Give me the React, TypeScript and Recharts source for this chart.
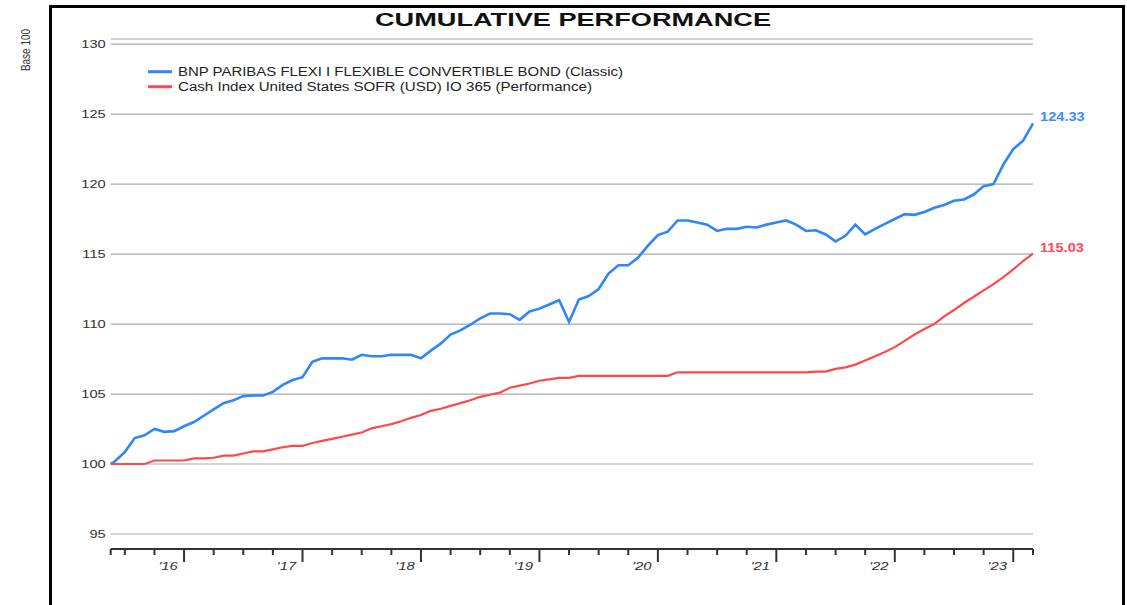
import React from "react";
import { LineChart, Line, XAxis, YAxis, CartesianGrid, Legend } from "recharts";

// months counted from Jan 2016; first point is the base date (mid-May 2016), then month ends
const firstMonth = 4.57;

const fundValues = [
  100.0, 100.2, 100.85, 101.85, 102.05, 102.5, 102.3, 102.35, 102.7, 103.0,
  103.45, 103.9, 104.35, 104.55, 104.85, 104.9, 104.9, 105.15, 105.65, 106.0,
  106.2, 107.3, 107.55, 107.55, 107.55, 107.45, 107.8, 107.7, 107.7, 107.8,
  107.8, 107.8, 107.55, 108.1, 108.6, 109.25, 109.55, 109.95, 110.4, 110.75,
  110.75, 110.7, 110.3, 110.9, 111.1, 111.4, 111.7, 110.15, 111.75, 112.0,
  112.5, 113.6, 114.2, 114.2, 114.75, 115.6, 116.35, 116.6, 117.4, 117.4,
  117.25, 117.1, 116.65, 116.8, 116.8, 116.95, 116.9, 117.1, 117.25, 117.4,
  117.1, 116.65, 116.7, 116.4, 115.9, 116.3, 117.1, 116.4, 116.8, 117.15,
  117.5, 117.85, 117.8, 118.0, 118.3, 118.5, 118.8, 118.9, 119.25, 119.85,
  120.0, 121.4, 122.5, 123.1, 124.33,
];

const cashValues = [
  100.0, 100.0, 100.0, 100.0, 100.0, 100.25, 100.25, 100.25, 100.25, 100.4,
  100.4, 100.45, 100.6, 100.6, 100.75, 100.9, 100.9, 101.05, 101.2, 101.3,
  101.3, 101.5, 101.65, 101.8, 101.95, 102.1, 102.25, 102.55, 102.7, 102.85,
  103.05, 103.3, 103.5, 103.8, 103.95, 104.15, 104.35, 104.55, 104.8, 104.95,
  105.1, 105.45, 105.6, 105.75, 105.95, 106.05, 106.15, 106.15, 106.3, 106.3,
  106.3, 106.3, 106.3, 106.3, 106.3, 106.3, 106.3, 106.3, 106.55, 106.55,
  106.55, 106.55, 106.55, 106.55, 106.55, 106.55, 106.55, 106.55, 106.55, 106.55,
  106.55, 106.55, 106.6, 106.6, 106.8, 106.9, 107.1, 107.4, 107.7, 108.0,
  108.35, 108.8, 109.25, 109.65, 110.0, 110.55, 111.0, 111.5, 111.95, 112.4,
  112.85, 113.35, 113.9, 114.5, 115.03,
];

const fundName = "BNP PARIBAS FLEXI I FLEXIBLE CONVERTIBLE BOND (Classic)";
const cashName = "Cash Index United States SOFR (USD) IO 365 (Performance)";

const yTicks = [95, 100, 105, 110, 115, 120, 125, 130];
const yearTicks = [12, 24, 36, 48, 60, 72, 84, 96];
const yearLabels = ["'16", "'17", "'18", "'19", "'20", "'21", "'22", "'23"];
const xTicks = [
  4.57, 6, 9, 12, 15, 18, 21, 24, 27, 30, 33, 36, 39, 42, 45, 48, 51, 54, 57, 60,
  63, 66, 69, 72, 75, 78, 81, 84, 87, 90, 93, 96, 98,
];

const data = fundValues.map((v, i) => ({
  t: i === 0 ? firstMonth : 4 + i,
  fund: v,
  cash: cashValues[i],
}));

const FONT = "'Liberation Sans', Arial, sans-serif";
const BLUE = "#2f86f6";
const RED = "#ff4848";
const INK = "#333";

const StretchText = ({ x, y, sx = 1.3, anchor = "start", size = 11, weight = "normal", italic = false, fill = INK, children }: any) => (
  <g transform={`translate(${x},${y}) scale(${sx},1)`}>
    <text x={0} y={0} textAnchor={anchor} fontSize={size} fontWeight={weight}
      fontStyle={italic ? "italic" : "normal"} fill={fill} fontFamily={FONT}>
      {children}
    </text>
  </g>
);

const XTick = (props: any) => {
  const { x, y, payload } = props;
  const yi = yearTicks.indexOf(payload.value);
  const major = yi >= 0;
  return (
    <g>
      <line x1={x} x2={x} y1={y} y2={y + (major ? 13 : 6)} stroke={INK} strokeWidth={2} />
      {major && (
        <StretchText x={x - 16} y={y + 21} anchor="middle" italic sx={1.35}>
          {yearLabels[yi]}
        </StretchText>
      )}
    </g>
  );
};

const YTick = (props: any) => {
  const { x, y, payload } = props;
  return (
    <StretchText x={x} y={y + 4} anchor="end" sx={1.33}>
      {payload.value}
    </StretchText>
  );
};

const endLabel = (color: string) => (props: any) => {
  const { x, y, index, value } = props;
  if (index !== data.length - 1) return <g />;
  return (
    <StretchText x={x + 7} y={y - 2} size={12} weight="bold" fill={color} sx={1.22}>
      {Number(value).toFixed(2)}
    </StretchText>
  );
};

const legendWidths = [445, 414];

const renderLegend = (props: any) => {
  const { payload } = props;
  return (
    <svg width={520} height={34}>
      {payload.map((entry: any, i: number) => (
        <g key={entry.value}>
          <line x1={8} x2={32} y1={9.7 + i * 15} y2={9.7 + i * 15} stroke={entry.color} strokeWidth={3} />
          <text x={38} y={14 + i * 15} fontSize={12.5} fontFamily={FONT} fill="#222"
            textLength={legendWidths[i]} lengthAdjust="spacingAndGlyphs">
            {entry.value}
          </text>
        </g>
      ))}
    </svg>
  );
};

const App: React.FC = () => {
  return (
    <div style={{ position: "absolute", left: 0, top: 0, width: 1127, height: 605, overflow: "hidden", background: "#fff" }}>
      <svg width={1127} height={605} style={{ position: "absolute", left: 0, top: 0 }}>
        <rect x={50.5} y={6.5} width={1073} height={700} fill="none" stroke="#000" strokeWidth={3} />
        <text x={573} y={26} textAnchor="middle" fontSize={19} fontWeight="bold" fontFamily={FONT}
          fill="#111" textLength={396} lengthAdjust="spacingAndGlyphs">
          CUMULATIVE PERFORMANCE
        </text>
        <text transform="translate(29.5,50) rotate(-90) scale(1,1.3)" textAnchor="middle" fontSize={10}
          fontFamily={FONT} fill={INK}>
          Base 100
        </text>
      </svg>
      <div style={{ position: "absolute", left: 0, top: 0 }}>
        <LineChart width={1127} height={605} data={data} margin={{ top: 39, right: 94, bottom: 0, left: 0 }}>
          <CartesianGrid horizontal vertical={false} stroke="#aaa" strokeWidth={1.2} />
          <XAxis dataKey="t" type="number" domain={[firstMonth, 98]} ticks={xTicks} interval={0}
            height={56} tickSize={0} tickMargin={0} tickLine={false}
            axisLine={{ stroke: INK, strokeWidth: 2 }} tick={<XTick />} />
          <XAxis xAxisId="top" orientation="top" dataKey="t" type="number" domain={[firstMonth, 98]}
            height={0} tick={false} tickLine={false} axisLine={{ stroke: "#aaa", strokeWidth: 1.2 }} />
          <YAxis type="number" domain={[93.93, 130.36]} ticks={yTicks} interval={0} width={110.7}
            tickSize={3} tickMargin={2} tickLine={false} axisLine={false} tick={<YTick />} />
          <Legend layout="vertical" align="center" verticalAlign="middle"
            wrapperStyle={{ top: 62, left: 140, width: 520, height: 34 }} content={renderLegend} />
          <Line type="linear" dataKey="fund" name={fundName} stroke={BLUE} strokeWidth={2.6}
            dot={false} isAnimationActive={false} label={endLabel("#3a8cff")} />
          <Line type="linear" dataKey="cash" name={cashName} stroke={RED} strokeWidth={2.2}
            dot={false} isAnimationActive={false} label={endLabel("#ff4a5a")} />
        </LineChart>
      </div>
    </div>
  );
};

export default App;
